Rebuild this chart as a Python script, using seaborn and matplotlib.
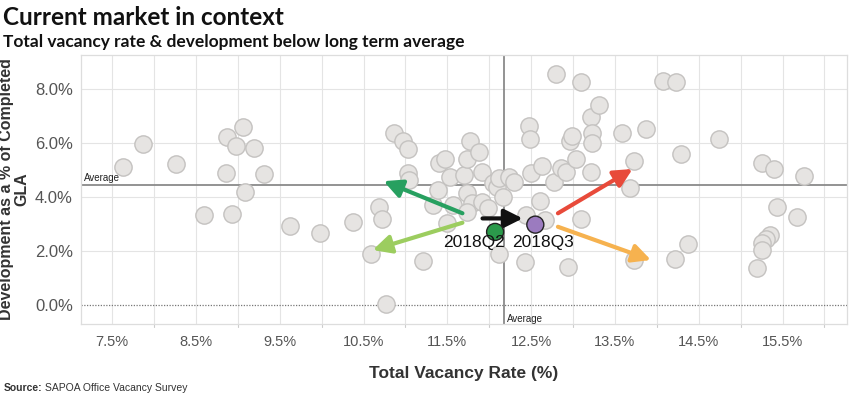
import matplotlib
matplotlib.use("Agg")
import numpy as np
import pandas as pd
import seaborn as sns
import matplotlib.pyplot as plt

# total vacancy rate (%) and development as % of completed GLA, per node
vacancy = [7.63, 7.87, 8.26, 8.60, 8.87, 8.86, 8.93, 8.98, 9.06, 9.19,
           9.09, 9.31, 9.62, 9.98, 10.37, 10.59, 10.68, 10.72, 10.77, 10.86,
           10.97, 11.03, 11.03, 11.04, 11.21, 11.33, 11.39, 11.40, 11.47, 11.50,
           11.53, 11.57, 11.70, 11.73, 11.77, 11.88, 11.91, 11.73, 11.79, 11.91,
           11.73, 11.98, 12.04, 12.09, 12.12, 12.24, 12.16, 12.12, 12.43, 12.47,
           12.49, 12.50, 12.63, 12.61, 12.66, 12.44, 12.77, 12.80, 12.86, 12.92,
           12.94, 12.96, 12.99, 13.04, 13.09, 13.09, 13.22, 13.22, 13.23, 13.23,
           13.31, 13.58, 13.68, 13.73, 13.73, 13.87, 14.07, 14.23, 14.22, 14.29,
           14.37, 14.74, 15.19, 15.25, 15.40, 15.76, 15.43, 15.67, 15.35, 15.30,
           15.25, 15.26, 12.30]
development = [5.12, 5.96, 5.21, 3.34, 6.21, 4.89, 3.37, 5.88, 6.59, 5.80,
               4.17, 4.85, 2.94, 2.68, 3.07, 1.91, 3.64, 3.19, 0.04, 6.36,
               6.09, 5.78, 4.89, 4.63, 1.64, 3.70, 4.26, 5.25, 5.40, 3.03,
               4.73, 3.70, 4.81, 5.40, 6.09, 5.68, 4.94, 4.14, 3.77, 3.83,
               3.46, 3.58, 4.51, 4.38, 4.69, 4.75, 4.01, 1.91, 1.58, 6.63,
               6.14, 4.88, 5.15, 3.86, 3.15, 3.33, 4.57, 8.56, 5.06, 4.94,
               1.40, 6.06, 6.26, 5.40, 8.26, 3.20, 4.93, 6.97, 6.38, 6.01,
               7.41, 6.36, 4.32, 5.33, 1.67, 6.51, 8.31, 8.25, 1.69, 5.58,
               2.25, 6.14, 1.36, 5.25, 5.04, 4.78, 3.62, 3.27, 2.59, 2.43,
               2.29, 2.04, 4.57]

quarters = ["2018Q2", "2018Q3"]
quarter_vacancy = [12.07, 12.55]
quarter_development = [2.71, 2.98]
quarter_colors = ["#2b9a4b", "#9b7bbf"]
# label anchors for the quarter names
label_x = [12.19, 12.27]
label_y = [2.30, 2.30]
label_ha = ["right", "left"]

avg_vacancy = 12.18
avg_development = 4.46

# arrows: start (x, y) -> end (x, y)
arrow_start_x = [11.92, 11.68, 11.68, 12.82, 12.82]
arrow_start_y = [3.21, 3.40, 3.05, 3.40, 2.90]
arrow_end_x = [12.40, 10.74, 10.61, 13.71, 13.93]
arrow_end_y = [3.21, 4.59, 2.04, 5.04, 1.67]
arrow_colors = ["#111111", "#27a060", "#9ccd5f", "#e84a3a", "#f6b24f"]

df = pd.DataFrame({"vacancy": vacancy, "development": development})
qdf = pd.DataFrame({"quarter": quarters, "vacancy": quarter_vacancy,
                    "development": quarter_development})

sns.set_style("white")
plt.rcParams["font.family"] = ["Liberation Sans", "DejaVu Sans"]

fig = plt.figure(figsize=(8.5, 3.99), dpi=100)
ax = fig.add_axes([0.0955, 0.188, 0.901, 0.674])

sns.scatterplot(data=df, x="vacancy", y="development", ax=ax, s=155,
                color="#e6e4e2", edgecolor="#c4c2c0", linewidth=1.0, zorder=3)

ax.set_xlim(7.13, 16.27)
ax.set_ylim(-0.70, 9.26)

# grid
for gx in np.arange(7.5, 16.01, 0.5):
    ax.axvline(gx, color="#e4e4e4", lw=0.8, zorder=0)
for gy in [2, 4, 6, 8]:
    ax.axhline(gy, color="#e4e4e4", lw=0.8, zorder=0)
ax.axhline(0, color="#777777", lw=0.9, ls=(0, (1, 1.2)), zorder=1)

ax.axhline(avg_development, color="#8a8a8a", lw=1.3, zorder=2)
ax.axvline(avg_vacancy, color="#8a8a8a", lw=1.3, zorder=2)
ax.text(7.16, avg_development + 0.12, "Average", fontsize=7,
        color="#222222", zorder=6)
ax.text(avg_vacancy + 0.03, -0.62, "Average", fontsize=7,
        color="#222222", zorder=6)

for sx, sy, ex, ey, c in zip(arrow_start_x, arrow_start_y, arrow_end_x,
                             arrow_end_y, arrow_colors):
    ax.annotate("", xy=(ex, ey), xytext=(sx, sy), zorder=5,
                arrowprops=dict(arrowstyle="-|>,head_length=1.0,head_width=0.5",
                                mutation_scale=11, color=c, lw=3,
                                shrinkA=0, shrinkB=0))

sns.scatterplot(data=qdf, x="vacancy", y="development", hue="quarter",
                palette=quarter_colors, ax=ax, s=150, edgecolor="#222222",
                linewidth=1.0, legend=False, zorder=6)
for q, lx, ly, ha in zip(quarters, label_x, label_y, label_ha):
    ax.text(lx, ly, q, ha=ha, va="center", fontsize=12.5,
            color="#111111", zorder=7)

ax.set_xticks(np.arange(7.5, 16.0, 1.0))
ax.set_xticklabels([f"{v:.1f}%" for v in np.arange(7.5, 16.0, 1.0)])
ax.set_yticks([0, 2, 4, 6, 8])
ax.set_yticklabels([f"{v:.1f}%" for v in [0, 2, 4, 6, 8]])
ax.tick_params(axis="x", length=0, labelsize=10.5,
               labelcolor="#555555", pad=8)
ax.tick_params(axis="y", length=0, labelsize=12, labelcolor="#555555", pad=6)
# small ticks at whole percents under the axis
for tx in np.arange(8.0, 16.01, 1.0):
    ax.plot([tx, tx], [-0.70, -0.80], color="#cccccc", lw=0.8,
            clip_on=False, zorder=1)

for sp in ax.spines.values():
    sp.set_color("#dddddd")
    sp.set_linewidth(0.9)

ax.set_xlabel("Total Vacancy Rate (%)", fontsize=12.5, fontweight="bold",
              color="#333333", labelpad=12)
ax.set_ylabel("Development as a % of Completed\nGLA", fontsize=11.5,
              fontweight="bold", color="#333333", labelpad=4, linespacing=1.0)

fig.text(0.004, 0.985, "Current market in context", fontsize=17.5,
         fontweight="bold", family=["Lato", "DejaVu Sans"], color="#111111",
         va="top")
fig.text(0.004, 0.915, "Total vacancy rate & development below long term average",
         fontsize=12.5, fontweight="bold", family=["Lato", "DejaVu Sans"],
         color="#111111", va="top")
fig.text(0.004, 0.028, "Source:", fontsize=7.5, fontweight="bold",
         color="#333333", va="center")
fig.text(0.053, 0.028, "SAPOA Office Vacancy Survey", fontsize=7.5,
         color="#333333", va="center")

fig.savefig("out.png", dpi=100, facecolor="white")
